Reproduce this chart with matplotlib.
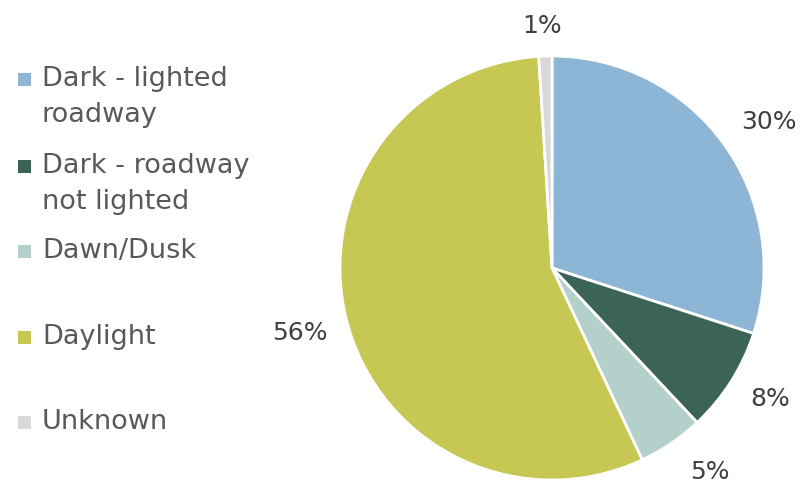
import numpy as np
import matplotlib
matplotlib.use("Agg")
import matplotlib.pyplot as plt
from matplotlib.patches import Rectangle

categories = ["Dark - lighted\nroadway", "Dark - roadway\nnot lighted", "Dawn/Dusk", "Daylight", "Unknown"]
shares = [30, 8, 5, 56, 1]
colors = ["#8DB6D6", "#3B6358", "#B3D0CB", "#C7C853", "#D9D9D9"]

# layout of the legend (figure pixels from the top, first text line)
legend_y = [78, 165, 250, 336, 421]
# label placement: distance from centre (radii) and angle nudge (deg)
label_dist = [1.234, 1.20, 1.217, 1.228, 1.142]
label_nudge = [-2.1, 1.4, 3.6, 0.1, 0.6]

W, H = 802, 484
fig = plt.figure(figsize=(W / 100, H / 100), dpi=100)

cx, cy, r = 552, 268, 212
ax = fig.add_axes([(cx - r) / W, (H - cy - r) / H, 2 * r / W, 2 * r / H])
wedges, _ = ax.pie(shares, colors=colors, startangle=90, counterclock=False,
                   radius=1, wedgeprops=dict(edgecolor="white", linewidth=2))
ax.set_xlim(-1, 1)
ax.set_ylim(-1, 1)
ax.set_aspect("equal")
ax.axis("off")

for w, s, d, n in zip(wedges, shares, label_dist, label_nudge):
    mid = np.deg2rad((w.theta1 + w.theta2) / 2 + n)
    ax.text(d * np.cos(mid), d * np.sin(mid), f"{s}%", ha="center", va="center",
            fontsize=18, color="#404040", clip_on=False)

for lab, c, y in zip(categories, colors, legend_y):
    fig.patches.append(Rectangle((18 / W, 1 - (y + 8) / H), 13 / W, 13 / H,
                                 transform=fig.transFigure, facecolor=c, edgecolor="none"))
    fig.text(42 / W, 1 - (y - 12) / H, lab, ha="left", va="top", fontsize=19.5,
             color="#595959", linespacing=1.5)

fig.savefig("out.png", dpi=100)
